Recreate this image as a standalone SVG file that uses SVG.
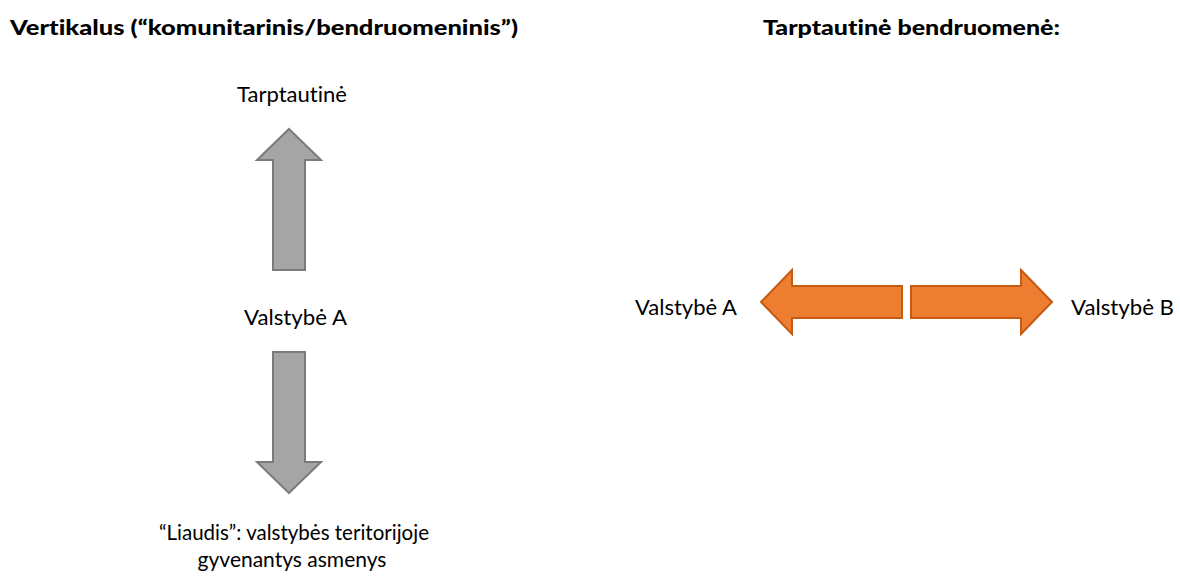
<svg xmlns="http://www.w3.org/2000/svg" width="1180" height="577" viewBox="0 0 1180 577">
<style>
text{font-family:Lato,"Open Sans","Liberation Sans",sans-serif;fill:#000;font-variant-ligatures:none}
.t{font-size:20px;font-weight:900}
.l{font-size:21px}
.g{fill:#a5a5a5;stroke:#7b7b7b;stroke-width:2}
.o{fill:#ed7d31;stroke:#c55a11;stroke-width:2}
</style>
<rect width="1180" height="577" fill="#fff"/>
<g id="title-left"><text class="t" x="10" y="35" textLength="508" lengthAdjust="spacingAndGlyphs">Vertikalus (“komunitarinis/bendruomeninis”)</text></g>
<g id="title-right"><text class="t" x="763" y="35" textLength="297" lengthAdjust="spacingAndGlyphs">Tarptautinė bendruomenė:</text></g>
<g id="n-tarptautine"><text class="l" x="237" y="102" textLength="110" lengthAdjust="spacingAndGlyphs">Tarptautinė</text></g>
<g id="n-valstybe-a"><text class="l" x="244" y="325" textLength="103" lengthAdjust="spacingAndGlyphs">Valstybė A</text></g>
<g id="n-liaudis"><text class="l" x="159" y="540" textLength="270" lengthAdjust="spacingAndGlyphs">“Liaudis”: valstybės teritorijoje</text><text class="l" x="292" y="567" text-anchor="middle">gyvenantys asmenys</text></g>
<g id="n-valstybe-a2"><text class="l" x="635" y="315" textLength="102" lengthAdjust="spacingAndGlyphs">Valstybė A</text></g>
<g id="n-valstybe-b"><text class="l" x="1071" y="315" textLength="103" lengthAdjust="spacingAndGlyphs">Valstybė B</text></g>
<g id="connectors">
<path class="g" d="M289,129 L321,160 L305,160 L305,270 L273,270 L273,160 L257,160 Z"/>
<path class="g" d="M289,493 L321,462 L305,462 L305,352 L273,352 L273,462 L257,462 Z"/>
<path class="o" d="M761,302 L792,270 L792,286 L902,286 L902,318 L792,318 L792,334 Z"/>
<path class="o" d="M1052,302 L1021,270 L1021,286 L911,286 L911,318 L1021,318 L1021,334 Z"/>
</g>
</svg>
